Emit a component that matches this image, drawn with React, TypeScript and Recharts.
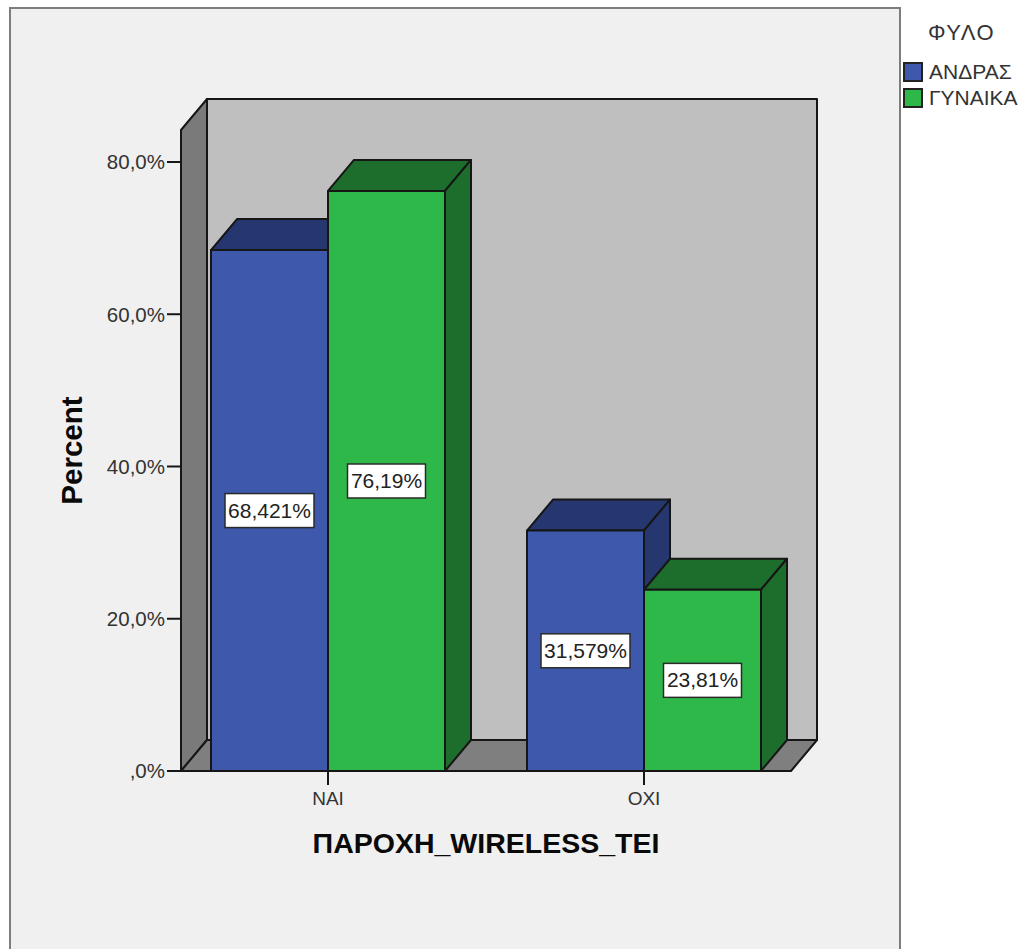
import { Bar, BarChart, Label, LabelList, Legend, XAxis, YAxis, usePlotArea } from "recharts";

const categories = ["ΝΑΙ", "ΟΧΙ"];
const andras = [68.421, 31.579];
const gynaika = [76.19, 23.81];
const andrasLabels = ["68,421%", "31,579%"];
const gynaikaLabels = ["76,19%", "23,81%"];
const yTicks = [0, 20, 40, 60, 80];
const seriesNames = ["ΑΝΔΡΑΣ", "ΓΥΝΑΙΚΑ"];

const data = categories.map((name, i) => ({
  name,
  andras: andras[i],
  gynaika: gynaika[i],
  andrasLabel: andrasLabels[i],
  gynaikaLabel: gynaikaLabels[i],
}));

const FONT = "'Liberation Sans', Arial, sans-serif";
const DX = 26;
const DY = 31;
const EDGE = "#161616";
const BLUE = "#3e58ac";
const BLUE_DARK = "#26366f";
const GREEN = "#2fb84a";
const GREEN_DARK = "#1d6e2d";

function Walls() {
  const plot = usePlotArea();
  if (!plot) return null;
  const { x, y, width, height } = plot;
  const bottom = y + height;
  const right = x + width;
  return (
    <g stroke={EDGE} strokeWidth={2} strokeLinejoin="round">
      <rect x={x + DX} y={y - DY} width={width} height={height} fill="#bfbfbf" />
      <polygon points={`${x},${y} ${x + DX},${y - DY} ${x + DX},${bottom - DY} ${x},${bottom}`} fill="#7a7a7a" />
      <polygon points={`${x},${bottom} ${x + DX},${bottom - DY} ${right + DX},${bottom - DY} ${right},${bottom}`} fill="#7f7f7f" />
    </g>
  );
}

function Box3D(props: any) {
  const { x, y, width, height, front, dark } = props;
  const r = x + width;
  const b = y + height;
  return (
    <g stroke={EDGE} strokeWidth={2} strokeLinejoin="round">
      <polygon points={`${x},${y} ${x + DX},${y - DY} ${r + DX},${y - DY} ${r},${y}`} fill={dark} />
      <polygon points={`${r},${y} ${r + DX},${y - DY} ${r + DX},${b - DY} ${r},${b}`} fill={dark} />
      <rect x={x} y={y} width={width} height={height} fill={front} />
    </g>
  );
}

function ValueTag(props: any) {
  const { x, y, width, height, value } = props;
  const cx = x + width / 2;
  const cy = y + height / 2;
  const w = value.length * 11 + 12;
  return (
    <g>
      <rect x={cx - w / 2} y={cy - 17} width={w} height={34} fill="#ffffff" stroke="#2a2a2a" strokeWidth={1.5} />
      <text x={cx} y={cy + 7} textAnchor="middle" fontFamily={FONT} fontSize={21} fill="#222222">
        {value}
      </text>
    </g>
  );
}

function SideLegend() {
  const fills = [BLUE, GREEN];
  return (
    <div style={{ position: "absolute", left: 903, top: 20, width: 117, fontFamily: FONT, color: "#333333" }}>
      <div style={{ fontSize: 22, textAlign: "center", letterSpacing: 1.5, lineHeight: "26px" }}>ΦΥΛΟ</div>
      {seriesNames.map((name, i) => (
        <div key={name} style={{ position: "absolute", left: 0, top: 42 + i * 26, display: "flex", alignItems: "center" }}>
          <span style={{ width: 16, height: 16, background: fills[i], border: "2px solid #222", display: "inline-block" }} />
          <span style={{ fontSize: 21, marginLeft: 6, lineHeight: "20px", whiteSpace: "nowrap" }}>{name}</span>
        </div>
      ))}
    </div>
  );
}

export default function App() {
  const formatTick = (v: number) => (v === 0 ? ",0%" : `${v},0%`);
  return (
    <div style={{ position: "absolute", left: 0, top: 0, width: 1020, height: 949, background: "#ffffff", overflow: "hidden" }}>
      <div style={{ position: "absolute", left: 9, top: 7, width: 888, height: 960, background: "#f0f0f0", border: "2px solid #7d7d7d" }} />
      <div style={{ position: "absolute", left: 0, top: 0 }}>
        <BarChart
          width={1020}
          height={949}
          data={data}
          margin={{ top: 130, right: 229, bottom: 78, left: 101 }}
          barSize={117}
          barGap={0}
          style={{ fontFamily: FONT }}
        >
          <Walls />
          <XAxis
            dataKey="name"
            height={100}
            padding={{ left: -11, right: -11 }}
            stroke="#161616"
            strokeWidth={2}
            tickSize={14}
            tickMargin={7}
            tick={{ fill: "#333333", fontSize: 19 }}
          >
            <Label value="ΠΑΡΟΧΗ_WIRELESS_TEI" position="insideTop" offset={62} fill="#0a0a0a" fontSize={28.5} fontWeight={700} />
          </XAxis>
          <YAxis
            width={80}
            domain={[0, 84.2]}
            ticks={yTicks}
            tickFormatter={formatTick}
            stroke="#161616"
            strokeWidth={2}
            tickSize={14}
            tickMargin={2}
            tick={{ fill: "#333333", fontSize: 20.5 }}
          >
            <Label value="Percent" angle={-90} position="insideLeft" textAnchor="middle" offset={-29} fill="#0a0a0a" fontSize={29.5} fontWeight={700} />
          </YAxis>
          <Legend content={() => null} />
          <Bar
            dataKey="andras"
            isAnimationActive={false}
            shape={(p: any) => <Box3D {...p} front={BLUE} dark={BLUE_DARK} />}
          >
            <LabelList dataKey="andrasLabel" content={ValueTag} />
          </Bar>
          <Bar
            dataKey="gynaika"
            isAnimationActive={false}
            shape={(p: any) => <Box3D {...p} front={GREEN} dark={GREEN_DARK} />}
          >
            <LabelList dataKey="gynaikaLabel" content={ValueTag} />
          </Bar>
        </BarChart>
      </div>
      <SideLegend />
    </div>
  );
}
